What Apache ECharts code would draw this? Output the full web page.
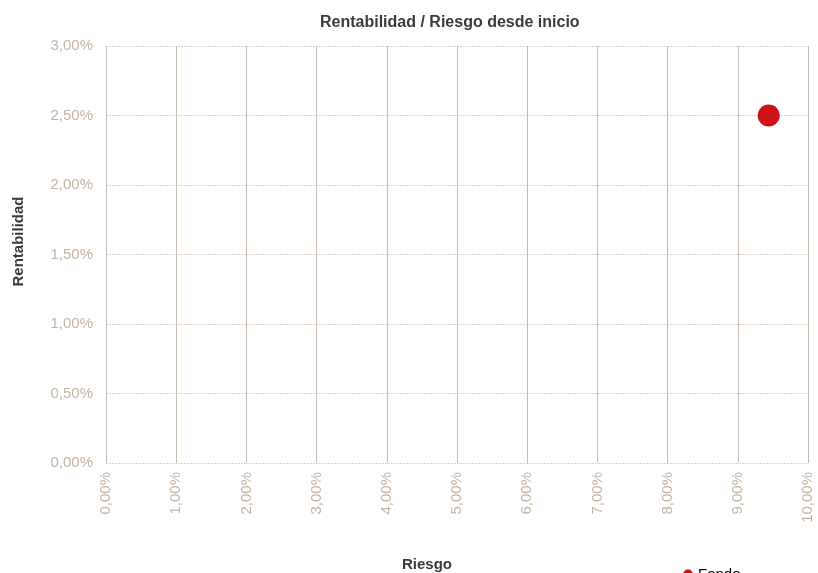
<!DOCTYPE html>
<html><head><meta charset="utf-8">
<script src="https://cdn.jsdelivr.net/npm/echarts@6/dist/echarts.min.js"></script>
<style>html,body{margin:0;padding:0;background:#fff}#c{width:818px;height:573px}</style>
</head><body><div id="c"></div>
<script>
const seriesName = 'Fondo';
const riesgo = [9.44];
const rentabilidad = [2.5];
const chart = echarts.init(document.getElementById('c'));
const fmt = v => v.toFixed(2).replace('.', ',') + '%';
const FF = 'Liberation Sans, Arial';
chart.setOption({
  animation: false,
  title: { text: 'Rentabilidad / Riesgo desde inicio', left: 315, top: 10,
    textStyle: { fontFamily: FF, fontSize: 16, fontWeight: 'bold', color: '#3a3a3a' } },
  legend: { data: [seriesName], left: 678, top: 562, icon: 'circle', itemWidth: 10, itemHeight: 10, itemGap: 2,
    textStyle: { fontFamily: FF, fontSize: 15, color: '#000' } },
  grid: { left: 106, right: 10, top: 46, bottom: 110, containLabel: false, outerBoundsMode: 'none' },
  xAxis: { type: 'value', min: 0, max: 10, interval: 1,
    name: 'Riesgo', nameLocation: 'middle', nameGap: 94,
    nameTextStyle: { fontFamily: FF, fontSize: 15, fontWeight: 'bold', color: '#3a3a3a', padding: [0, 60, 0, 0] },
    axisLine: { show: false }, axisTick: { show: false },
    axisLabel: { rotate: 90, formatter: fmt, color: '#c4b4a4', fontFamily: FF, fontSize: 15, margin: 9 },
    splitLine: { show: true, lineStyle: { color: '#c8bcb0', type: 'solid', width: 1 } } },
  yAxis: { type: 'value', min: 0, max: 3, interval: 0.5,
    name: 'Rentabilidad', nameLocation: 'middle', nameGap: 80,
    nameTextStyle: { fontFamily: FF, fontSize: 15, fontWeight: 'bold', color: '#3a3a3a', padding: [0, 0, 0, 26] },
    axisLine: { show: false }, axisTick: { show: false },
    axisLabel: { formatter: fmt, color: '#c4b4a4', fontFamily: FF, fontSize: 15, margin: 13 },
    splitLine: { show: true, lineStyle: { color: '#ddd2c8', type: [2, 1], width: 1 } } },
  series: [{ name: seriesName, type: 'scatter', symbol: 'circle', symbolSize: 22,
    itemStyle: { color: '#cc1418', opacity: 1 },
    data: riesgo.map((x, i) => [x, rentabilidad[i]]) }]
});
</script></body></html>
